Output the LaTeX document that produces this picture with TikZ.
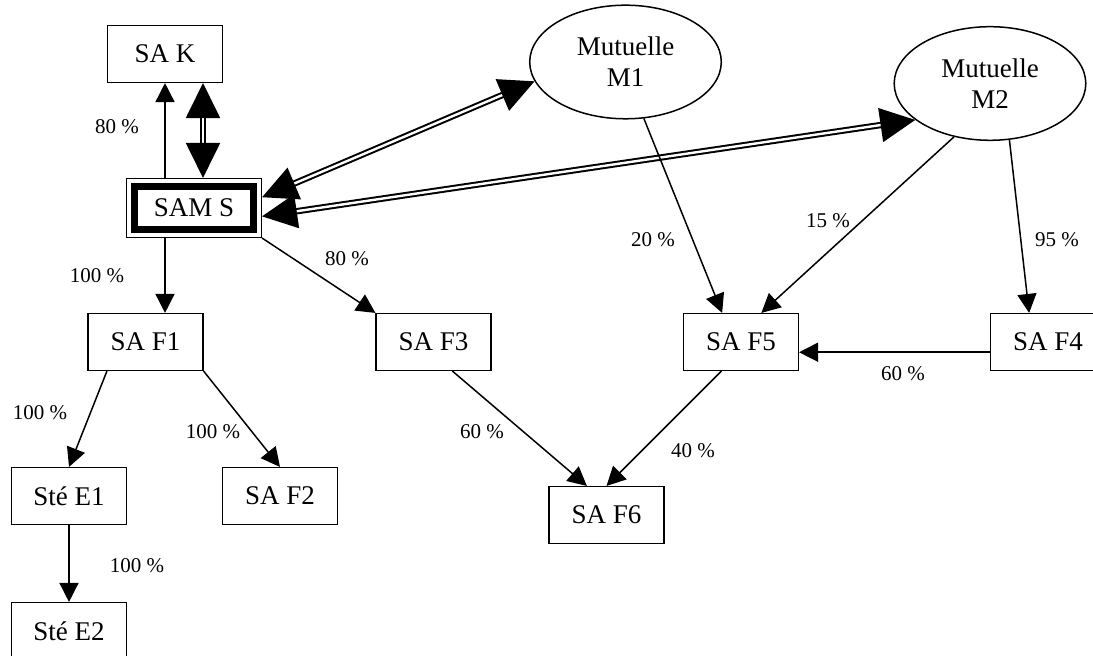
\documentclass[tikz,border=0pt]{standalone}
\usepackage{fontspec}
\setmainfont{Liberation Serif}
\usetikzlibrary{arrows.meta,shapes.geometric}

\begin{document}
\begin{tikzpicture}[x=0.5pt, y=0.5pt,
  box/.style={draw, line width=0.75pt, minimum width=57.3pt, minimum height=28.3pt, inner sep=0pt, font=\fontsize{13.5}{15.5}\selectfont},
  mutuelle/.style={draw, ellipse, line width=0.75pt, minimum width=95.8pt, minimum height=56.8pt, inner sep=0pt, align=center, font=\fontsize{13.5}{15.5}\selectfont},
  link/.style={line width=0.75pt, -{Triangle[length=9.5pt, width=9.5pt]}},
  biglink/.style={double, line width=1pt, double distance=1.2pt, {Triangle[length=17.5pt, width=17pt]}-{Triangle[length=17.5pt, width=17pt]}},
  pct/.style={inner sep=0pt, font=\fontsize{10.5}{12}\selectfont}]

% Frame
\clip (0,0) rectangle (1093,-656);

% Companies
\node[box] (saK) at (165,-54) {SA K};
\node[box, minimum width=67.3pt, minimum height=29.3pt] (samS) at (194,-208) {SAM S};
\draw[line width=3.8pt] ([shift={(4.3pt,-4.3pt)}]samS.north west) rectangle ([shift={(-4.3pt,4.3pt)}]samS.south east);
\node[box] (saF1) at (145.5,-342) {SA F1};
\node[box] (saF3) at (433.5,-342) {SA F3};
\node[box] (saF5) at (741,-342) {SA F5};
\node[box] (saF4) at (1048,-342) {SA F4};
\node[box] (steE1) at (69,-496) {Sté E1};
\node[box] (saF2) at (280,-496) {SA F2};
\node[box] (steE2) at (69,-631) {Sté E2};
\node[box] (saF6) at (606.5,-515) {SA F6};

% Mutuelles
\node[mutuelle] (m1) at (625.5,-62) {Mutuelle\\M1};
\node[mutuelle] (m2) at (990,-83.5) {Mutuelle\\M2};

% Links with SAM S
\draw[link] (saK.south |- samS.north) -- (saK.south);
\draw[biglink] ([xshift=19pt]saK.south) -- ([xshift=4.5pt]samS.north);
\draw[biglink] (samS.9) -- (m1.192);
\draw[biglink] (samS.-7.5) -- (m2.206);

% Holdings
\draw[link] (saK.south |- samS.south) -- (saK.south |- saF1.north);
\draw[link] (samS.south east) -- (saF3.north west);
\draw[link] (saF1.217) -- (steE1.north);
\draw[link] (saF1.south east) -- (saF2.north);
\draw[link] (steE1.south) -- (steE2.north);
\draw[link] (saF3.-57.5) -- (saF6.124);
\draw[link] (saF5.236.8) -- (saF6.north);
\draw[link] (m1.-72) -- (saF5.123);
\draw[link] (m2.236.5) -- (saF5.55.4);
\draw[link] (m2.-71) -- (saF4.123);
\draw[link] (saF4.190) -- (saF4.190 -| saF5.east);

% Percentages
\node[pct] (pK) at (117,-127) {80 \%};
\node[pct] (pF1) at (97,-276) {100 \%};
\node[pct] (pF3) at (347,-259) {80 \%};
\node[pct] (pE1) at (40,-413) {100 \%};
\node[pct] (pF2) at (213,-432) {100 \%};
\node[pct] (pE2) at (137,-566) {100 \%};
\node[pct] (pF36) at (482,-432) {60 \%};
\node[pct] (pF56) at (693,-451) {40 \%};
\node[pct] (pM1) at (653,-240) {20 \%};
\node[pct] (pM2) at (828,-221) {15 \%};
\node[pct] (pM2b) at (1057,-240) {95 \%};
\node[pct] (pF45) at (903,-374) {60 \%};

\end{tikzpicture}
\end{document}
